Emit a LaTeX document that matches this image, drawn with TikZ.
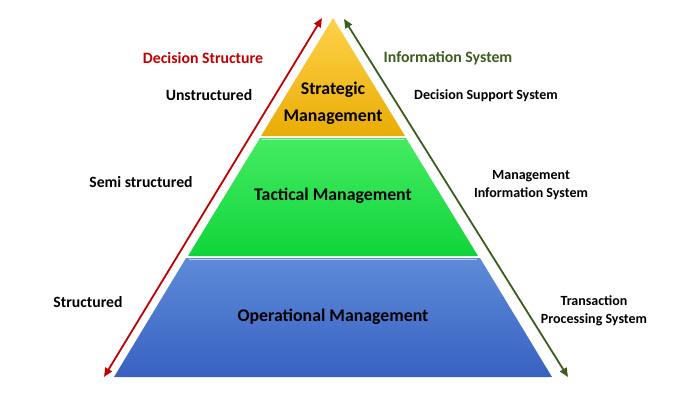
\documentclass[tikz,border=0pt]{standalone}
\usepackage{fontspec}
\setmainfont{Carlito}
\usetikzlibrary{arrows.meta}
\definecolor{goldtop}{HTML}{FFD24A}
\definecolor{goldbot}{HTML}{E9AC06}
\definecolor{greentop}{HTML}{45EC62}
\definecolor{greenbot}{HTML}{10D43A}
\definecolor{bluetop}{HTML}{5E8AD8}
\definecolor{bluebot}{HTML}{3862C2}
\definecolor{decred}{HTML}{C00000}
\definecolor{infogreen}{HTML}{3B5E1E}
\begin{document}
\begin{tikzpicture}[x=1pt,y=-1pt,
  level/.style={font=\bfseries\fontsize{17.8}{27}\selectfont,align=center},
  left/.style={font=\bfseries\fontsize{15.7}{19}\selectfont,align=center},
  side/.style={font=\bfseries\fontsize{14}{18.5}\selectfont,align=center},
  title/.style={font=\bfseries\fontsize{15.8}{19}\selectfont},
  axis/.style={line width=1.8pt,{Triangle[length=9pt,width=7.5pt]}-{Triangle[length=9pt,width=7.5pt]}}]
\useasboundingbox (0,0) rectangle (680,407);
% pyramid layers
\shade[top color=goldtop,bottom color=goldbot] (333,18) -- (405,136) -- (261,136) -- cycle;
\shade[top color=greentop,bottom color=greenbot] (260,138) -- (406,138) -- (478,256) -- (188,256) -- cycle;
\shade[top color=bluetop,bottom color=bluebot] (186,258) -- (480,258) -- (552,377) -- (114,377) -- cycle;
\draw[white!60!greentop,line width=1.3pt] (262,139.5) -- (404,139.5);
\draw[white!60!bluetop,line width=1.3pt] (189,259.5) -- (477,259.5);
% axes
\coordinate (redtop) at (322,18);
\coordinate (redbot) at (104,377);
\coordinate (grntop) at (344,19);
\coordinate (grnbot) at (568,377);
\draw[axis,decred] (redtop) -- (redbot);
\draw[axis,infogreen] (grntop) -- (grnbot);
% labels
\node[level] (strat) at (333,103) {Strategic\\Management};
\node[level] (tact) at (333,196) {Tactical Management};
\node[level] (oper) at (333,317) {Operational Management};
\node[title,text=decred] (decstruct) at (203,58) {Decision Structure};
\node[title,text=infogreen] (infosys) at (448,58) {Information System};
\node[left] (unstr) at (209,95) {Unstructured};
\node[left] (semi) at (141,182) {Semi structured};
\node[left] (str) at (88,302) {Structured};
\node[side] (dss) at (486,96) {Decision Support System};
\node[side] (mis) at (531,185) {Management\\Information System};
\node[side] (tps) at (594,311) {Transaction\\Processing System};
\end{tikzpicture}
\end{document}
